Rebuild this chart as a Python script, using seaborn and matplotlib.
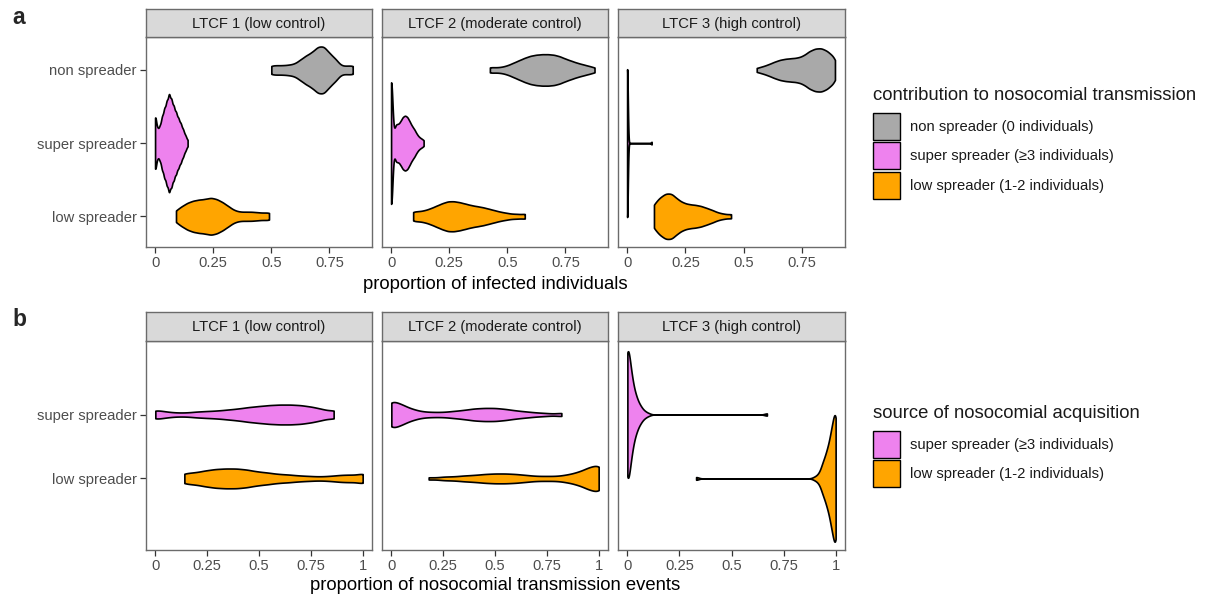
import numpy as np
import matplotlib
matplotlib.use("Agg")
import matplotlib.pyplot as plt
from matplotlib.patches import Patch
import seaborn as sns

# ---------------------------------------------------------------------------
# Data: simulated proportions (value) and how many runs produced them (count)
# ---------------------------------------------------------------------------
facilities = ["LTCF 1 (low control)", "LTCF 2 (moderate control)", "LTCF 3 (high control)"]
spreader_roles = ["non spreader", "super spreader", "low spreader"]
source_roles = ["super spreader", "low spreader"]

spreader_legend = ["non spreader (0 individuals)", "super spreader (\u22653 individuals)",
                   "low spreader (1-2 individuals)"]
source_legend = ["super spreader (\u22653 individuals)", "low spreader (1-2 individuals)"]

# (a) proportion of infected individuals
ltcf1_non_x = [0.50, 0.525, 0.55, 0.575, 0.60, 0.625, 0.65, 0.675, 0.70, 0.725, 0.75, 0.775, 0.80, 0.825, 0.85]
ltcf1_non_n = [9, 9, 9, 10, 12, 20, 28, 34, 45, 46, 32, 22, 8, 8, 9]
ltcf1_super_x = [0.00, 0.01, 0.02, 0.03, 0.04, 0.05, 0.06, 0.07, 0.08, 0.09, 0.10, 0.11, 0.12, 0.13, 0.14]
ltcf1_super_n = [30, 14, 17, 27, 35, 42, 50, 44, 37, 31, 25, 20, 14, 8, 3]
ltcf1_low_x = [0.09, 0.115, 0.14, 0.165, 0.19, 0.215, 0.24, 0.265, 0.29, 0.315, 0.34, 0.365, 0.39, 0.415, 0.44, 0.465, 0.49]
ltcf1_low_n = [12, 20, 27, 31, 33, 34, 37, 34, 28, 20, 12, 9, 9, 9, 8, 7, 8]

ltcf2_non_x = [0.425, 0.45, 0.475, 0.50, 0.525, 0.55, 0.575, 0.60, 0.625, 0.65, 0.675, 0.70, 0.725, 0.75, 0.775, 0.80, 0.825, 0.85, 0.875]
ltcf2_non_n = [6, 5, 6, 9, 14, 19, 24, 28, 30, 31, 31, 30, 27, 22, 18, 14, 11, 8, 5]
ltcf2_super_x = [0.00, 0.01, 0.02, 0.03, 0.04, 0.05, 0.06, 0.07, 0.08, 0.09, 0.10, 0.11, 0.12, 0.13, 0.14]
ltcf2_super_n = [58, 4, 13, 12, 14, 17, 18, 17, 14, 11, 9, 6, 4, 3, 2]
ltcf2_low_x = [0.095, 0.12, 0.145, 0.17, 0.195, 0.22, 0.245, 0.27, 0.295, 0.32, 0.345, 0.37, 0.395, 0.42, 0.445, 0.47, 0.495, 0.52, 0.545, 0.575]
ltcf2_low_n = [10, 10, 12, 16, 21, 26, 30, 30, 28, 25, 22, 20, 18, 15, 12, 9, 7, 5, 5, 6]

ltcf3_non_x = [0.555, 0.58, 0.605, 0.63, 0.655, 0.68, 0.705, 0.73, 0.755, 0.78, 0.805, 0.83, 0.855, 0.88, 0.89]
ltcf3_non_n = [4, 7, 11, 16, 20, 22, 23, 24, 28, 37, 42, 43, 38, 26, 6]
ltcf3_super_x = [0.00, 0.105]
ltcf3_super_n = [60, 1]
ltcf3_low_x = [0.115, 0.14, 0.165, 0.19, 0.215, 0.24, 0.265, 0.29, 0.315, 0.34, 0.365, 0.39, 0.415, 0.445]
ltcf3_low_n = [24, 36, 44, 44, 33, 26, 23, 22, 20, 16, 12, 7, 5, 5]

# (b) proportion of nosocomial transmission events by source
src1_super_x = [0.00, 0.05, 0.10, 0.15, 0.20, 0.25, 0.30, 0.35, 0.40, 0.45, 0.50, 0.55, 0.60, 0.65, 0.70, 0.75, 0.80, 0.86]
src1_super_n = [10, 6, 4, 4, 6, 7, 8, 10, 12, 15, 17, 19, 20, 20, 19, 16, 12, 10]
src1_low_x = [0.14, 0.19, 0.24, 0.29, 0.34, 0.39, 0.44, 0.49, 0.54, 0.59, 0.64, 0.69, 0.74, 0.79, 0.84, 0.89, 0.94, 1.00]
src1_low_n = [11, 12, 16, 19, 20, 20, 18, 14, 12, 9, 8, 6, 5, 4, 5, 7, 8, 12]

src2_super_x = [0.00, 0.05, 0.10, 0.15, 0.20, 0.25, 0.30, 0.35, 0.40, 0.45, 0.50, 0.55, 0.60, 0.65, 0.70, 0.75, 0.82]
src2_super_n = [30, 20, 11, 6, 5, 5, 7, 9, 12, 13, 13, 11, 8, 6, 4, 3, 4]
src2_low_x = [0.18, 0.25, 0.30, 0.35, 0.40, 0.45, 0.50, 0.55, 0.60, 0.65, 0.70, 0.75, 0.80, 0.85, 0.90, 0.95, 1.00]
src2_low_n = [3, 4, 4, 6, 7, 9, 10, 10, 9, 7, 5, 5, 5, 8, 13, 22, 30]

src3_super_x = [0.00, 0.02, 0.04, 0.06, 0.08, 0.10, 0.67]
src3_super_n = [104, 48, 24, 12, 5, 2, 2]
src3_low_x = [0.33, 0.90, 0.92, 0.94, 0.96, 0.98, 1.00]
src3_low_n = [2, 2, 5, 18, 30, 50, 80]

# ---------------------------------------------------------------------------
# Styling
# ---------------------------------------------------------------------------
sns.set_theme(style="white")
plt.rcParams["font.family"] = ["Liberation Sans", "DejaVu Sans"]

fill = {"non spreader": "#A9A9A9", "super spreader": "#EE82EE", "low spreader": "#FFA500"}
frame_col = "#6b6b6b"
tick_col = "#4d4d4d"
small_fs = 10.6
title_fs = 13.3

W, H = 1205, 595
fig = plt.figure(figsize=(W / 100, H / 100), dpi=100)


def box(l, t, r, b):
    return [l / W, 1 - b / H, (r - l) / W, (b - t) / H]


def draw_violin(ax, xs, ns, label, order, width, bw):
    sample = np.repeat(np.asarray(xs, dtype=float), ns)
    sd = sample.std(ddof=1)
    sns.violinplot(x=sample, y=[label] * len(sample), order=order, orient="h",
                   color=fill[label], saturation=1, width=width, density_norm="width",
                   cut=0, inner=None, bw_method=bw / sd, gridsize=800,
                   linewidth=1.2, linecolor="black", ax=ax)


def style_panel(ax, col, order, xticks, xlabels, xlim, ylim):
    ax.set_xlim(*xlim)
    ax.set_ylim(*ylim)
    ax.set_xticks(xticks)
    ax.set_xticklabels(xlabels)
    ax.set_yticks(range(len(order)))
    ax.set_yticklabels(order)
    ax.set_xlabel("")
    ax.set_ylabel("")
    ax.tick_params(axis="both", length=4, width=0.9, color="#333333",
                   labelcolor=tick_col, labelsize=small_fs, pad=2.5,
                   bottom=True, left=(col == 0), labelleft=(col == 0))
    for s in ax.spines.values():
        s.set_color(frame_col)
        s.set_linewidth(1.0)


def strip(l, t, r, b, text):
    sa = fig.add_axes(box(l, t, r, b))
    sa.set_facecolor("#D9D9D9")
    sa.set_xticks([])
    sa.set_yticks([])
    for s in sa.spines.values():
        s.set_color(frame_col)
        s.set_linewidth(1.0)
    sa.text(0.5, 0.47, text, ha="center", va="center", fontsize=small_fs,
            color="#1a1a1a", transform=sa.transAxes)


columns = [(146, 372), (382, 608), (618, 845)]

# ---- row a -----------------------------------------------------------------
infected = [
    [(ltcf1_non_x, ltcf1_non_n), (ltcf1_super_x, ltcf1_super_n), (ltcf1_low_x, ltcf1_low_n)],
    [(ltcf2_non_x, ltcf2_non_n), (ltcf2_super_x, ltcf2_super_n), (ltcf2_low_x, ltcf2_low_n)],
    [(ltcf3_non_x, ltcf3_non_n), (ltcf3_super_x, ltcf3_super_n), (ltcf3_low_x, ltcf3_low_n)],
]
widths_a = [[0.64, 1.34, 0.50], [0.43, 1.66, 0.41], [0.59, 2.02, 0.62]]
bws_a = [[0.015, 0.005, 0.015], [0.015, 0.006, 0.015], [0.015, 0.003, 0.015]]

for c, (l, r) in enumerate(columns):
    ax = fig.add_axes(box(l, 37, r, 247))
    for k, role in enumerate(spreader_roles):
        xs, ns = infected[c][k]
        draw_violin(ax, xs, ns, role, spreader_roles, widths_a[c][k], bws_a[c][k])
    style_panel(ax, c, spreader_roles, [0, 0.25, 0.5, 0.75], ["0", "0.25", "0.5", "0.75"],
                (-0.039, 0.933), (2.42, -0.45))
    strip(l, 9, r, 37, facilities[c])

# ---- row b -----------------------------------------------------------------
sources = [
    [(src1_super_x, src1_super_n), (src1_low_x, src1_low_n)],
    [(src2_super_x, src2_super_n), (src2_low_x, src2_low_n)],
    [(src3_super_x, src3_super_n), (src3_low_x, src3_low_n)],
]
widths_b = [[0.31, 0.31], [0.39, 0.39], [1.98, 1.98]]
bws_b = [[0.03, 0.03], [0.03, 0.03], [0.012, 0.012]]

for c, (l, r) in enumerate(columns):
    ax = fig.add_axes(box(l, 341, r, 550))
    for k, role in enumerate(source_roles):
        xs, ns = sources[c][k]
        draw_violin(ax, xs, ns, role, source_roles, widths_b[c][k], bws_b[c][k])
    style_panel(ax, c, source_roles, [0, 0.25, 0.5, 0.75, 1], ["0", "0.25", "0.5", "0.75", "1"],
                (-0.045, 1.045), (2.12, -1.15))
    strip(l, 312, r, 341, facilities[c])

# ---- titles, tags, legends -------------------------------------------------
fig.text(495.5 / W, 1 - 284 / H, "proportion of infected individuals",
         ha="center", va="center", fontsize=title_fs, color="black")
fig.text(495.5 / W, 1 - 585 / H, "proportion of nosocomial transmission events",
         ha="center", va="center", fontsize=title_fs, color="black")
fig.text(12 / W, 1 - 18 / H, "a", ha="left", va="center", fontsize=16.5, fontweight="bold")
fig.text(12 / W, 1 - 320 / H, "b", ha="left", va="center", fontsize=16.5, fontweight="bold")


def legend(labels, roles, title, title_y, keys_top):
    fig.text(873 / W, 1 - title_y / H, title, ha="left", va="center",
             fontsize=title_fs, color="#1a1a1a")
    handles = [Patch(facecolor=fill[r], edgecolor="black", linewidth=1.0) for r in roles]
    lg = fig.legend(handles, labels, loc="upper left",
                    bbox_to_anchor=(873 / W, 1 - keys_top / H), frameon=False,
                    fontsize=small_fs, alignment="left",
                    handlelength=1.84, handleheight=2.445, labelspacing=0.157,
                    handletextpad=0.65, borderpad=0, borderaxespad=0)
    for t in lg.get_texts():
        t.set_color("#1a1a1a")
    return lg


legend(spreader_legend, spreader_roles, "contribution to nosocomial transmission", 96, 113)
legend(source_legend, source_roles, "source of nosocomial acquisition", 413, 431)

fig.savefig("out.png", dpi=100)
